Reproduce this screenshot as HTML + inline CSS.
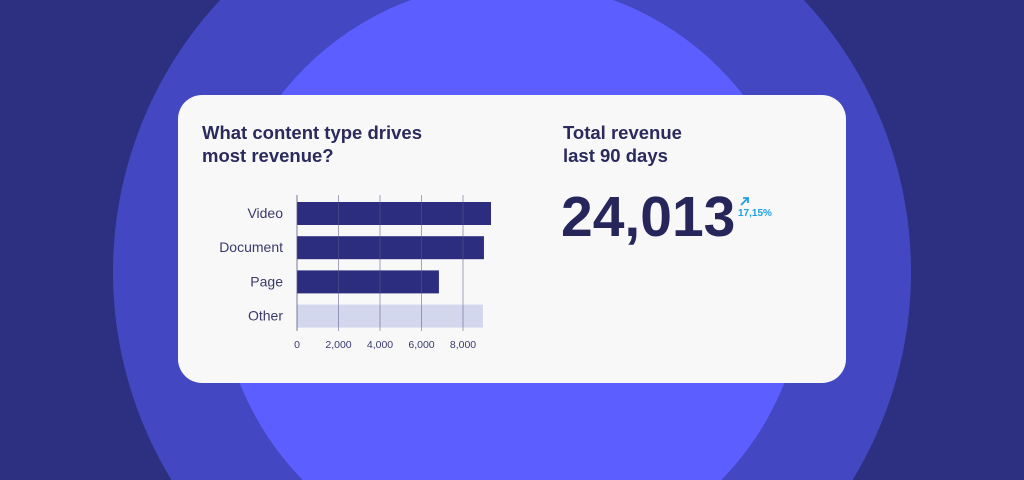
<!DOCTYPE html>
<html><head><meta charset="utf-8"><style>
html,body{margin:0;padding:0;}
body{width:1024px;height:480px;overflow:hidden;background:#2d2f80;position:relative;font-family:"Liberation Sans",sans-serif;}
svg{position:absolute;left:0;top:0;}
</style></head><body>
<svg width="1024" height="480" viewBox="0 0 1024 480">
  <circle cx="512" cy="272" r="399" fill="#4347c1"/>
  <circle cx="512" cy="275" r="293" fill="#5c5eff"/>
  <rect x="178" y="95" width="668" height="288" rx="24" fill="#f8f8f9"/>
  <text x="202" y="139" font-size="18.5" font-weight="bold" fill="#2a2a5c">
    <tspan x="202" y="139">What content type drives</tspan><tspan x="202" y="162">most revenue?</tspan></text>
  <text x="563" y="139" font-size="18.5" font-weight="bold" fill="#2a2a5c">
    <tspan x="563" y="139">Total revenue</tspan><tspan x="563" y="162">last 90 days</tspan></text>
  <text x="561" y="236" font-size="57" font-weight="bold" fill="#26265a">24,013</text>
  <path d="M741 205 L748 198 M743 198 L748 198 L748 203" stroke="#1fa0e0" stroke-width="1.8" fill="none"/>
  <text x="738" y="216" font-size="10" font-weight="bold" fill="#1fa0e0">17,15%</text>
  <g id="chart"></g>
</svg>
<script>
const categories = ["Video", "Document", "Page", "Other"];
const values = [9350, 9010, 6840, 8960];
const ticks = [0, 2000, 4000, 6000, 8000];
const tickLabels = ["0", "2,000", "4,000", "6,000", "8,000"];
const colors = ["#2d2d7f", "#2d2d7f", "#2d2d7f", "#d3d7ee"];

const NS = "http://www.w3.org/2000/svg";
const g = document.getElementById("chart");
const x0 = 297, pxPer = 0.02075;
const xs = v => x0 + v * pxPer;
const rowTop = 202, rowStep = 34.2, barH = 23;
const ys = i => rowTop + i * rowStep;
function mk(tag, attrs){const e=document.createElementNS(NS,tag);for(const k in attrs)e.setAttribute(k,attrs[k]);g.appendChild(e);return e;}

categories.forEach((c,i)=>{
  const r = mk("rect",{x:xs(0),y:ys(i),width:xs(values[i])-xs(0),height:barH,fill:colors[i]});
  
  
  const t = mk("text",{x:283,y:ys(i)+16,"text-anchor":"end","font-size":"14",fill:"#3a3a6a"});
  t.textContent = c;
  
  
});
ticks.forEach((v,i)=>{
  const l = mk("line",{x1:xs(v),x2:xs(v),y1:195,y2:331,stroke:"#5a5a88","stroke-opacity":v===0?"0.8":"0.55","stroke-width":"1"});
  
  
  const t = mk("text",{x:xs(v),y:348,"text-anchor":"middle","font-size":"10.5",fill:"#3a3a6a"});
  t.textContent = tickLabels[i];
  
  
});
</script>
</body></html>
